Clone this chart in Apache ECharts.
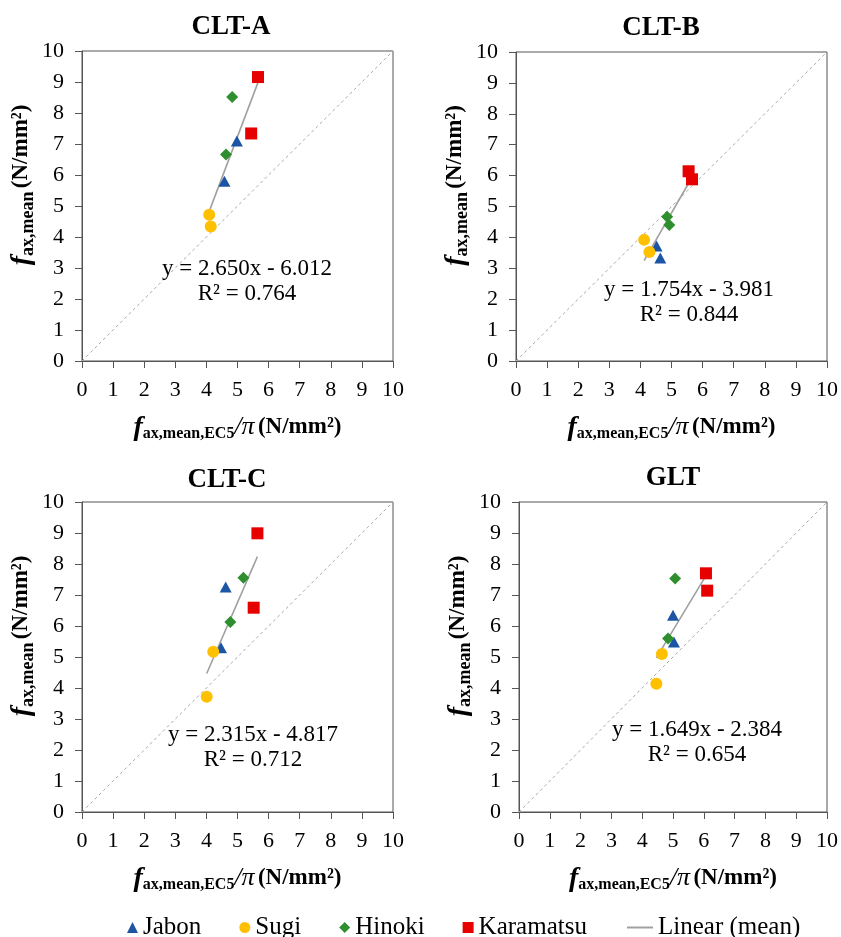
<!DOCTYPE html>
<html>
<head>
<meta charset="utf-8">
<title>CLT / GLT</title>
<script src="https://cdn.jsdelivr.net/npm/echarts@6/dist/echarts.min.js"></script>
<style>
  html, body { margin: 0; padding: 0; background: #fff; }
  #chart { width: 841px; height: 937px; }
</style>
</head>
<body>
<div id="chart"></div>
<script>
// panel names
const panels = ['CLT-A', 'CLT-B', 'CLT-C', 'GLT'];
const axisTicks = [0, 10];
const diagonal = [[0, 0], [10, 10]];

// [x, y] pairs per species, one array per panel
const jabonA = [[4.98, 7.10], [4.58, 5.80]];
const sugiA = [[4.09, 4.72], [4.14, 4.34]];
const hinokiA = [[4.83, 8.52], [4.63, 6.66]];
const karamatsuA = [[5.66, 9.16], [5.44, 7.34]];

const jabonB = [[4.52, 3.72], [4.64, 3.33]];
const sugiB = [[4.12, 3.92], [4.29, 3.53]];
const hinokiB = [[4.86, 4.67], [4.93, 4.40]];
const karamatsuB = [[5.55, 6.14], [5.66, 5.88]];

const jabonC = [[4.62, 7.26], [4.47, 5.30]];
const sugiC = [[4.22, 5.17], [4.01, 3.72]];
const hinokiC = [[5.19, 7.56], [4.77, 6.13]];
const karamatsuC = [[5.64, 8.99], [5.52, 6.59]];

const jabonD = [[5.00, 6.35], [5.03, 5.48]];
const sugiD = [[4.64, 5.10], [4.46, 4.14]];
const hinokiD = [[5.07, 7.53], [4.84, 5.60]];
const karamatsuD = [[6.07, 7.70], [6.11, 7.14]];

// linear fit [slope, intercept] and R² as printed on the chart
const fitA = [2.650, -6.012], r2A = 0.764;
const fitB = [1.754, -3.981], r2B = 0.844;
const fitC = [2.315, -4.817], r2C = 0.712;
const fitD = [1.649, -2.384], r2D = 0.654;

const species = ['Jabon', 'Sugi', 'Hinoki', 'Karamatsu'];
const symbols = ['triangle', 'circle', 'diamond', 'rect'];
const symbolSizes = [[12, 11], 12, 12, 12];
const colors = ['#1c55a3', '#ffc000', '#2f8f2f', '#e60000'];

const panelData = [
  [jabonA, sugiA, hinokiA, karamatsuA],
  [jabonB, sugiB, hinokiB, karamatsuB],
  [jabonC, sugiC, hinokiC, karamatsuC],
  [jabonD, sugiD, hinokiD, karamatsuD]
];
const fits = [fitA, fitB, fitC, fitD];
const r2s = [r2A, r2B, r2C, r2D];

// layout
const grids = [
  { left: 82, top: 51, width: 311, height: 310 },
  { left: 516, top: 52, width: 311, height: 309 },
  { left: 82, top: 502, width: 311, height: 310 },
  { left: 519, top: 502, width: 310, height: 310 }
];
const titlePos = [[231, 14], [661, 15], [227, 467], [673, 465]];
const eqPos = [[247, 256], [689, 277], [253, 722], [697, 717]];

const serif = 'Liberation Serif';

const chart = echarts.init(document.getElementById('chart'));

const titles = [];
const xAxes = [];
const yAxes = [];
const series = [];

panels.forEach((name, i) => {
  titles.push({
    text: name,
    left: titlePos[i][0],
    top: titlePos[i][1],
    padding: 0,
    textAlign: 'center',
    textStyle: { fontFamily: serif, fontWeight: 'bold', fontSize: 27, color: '#000' }
  });
  const fit = fits[i];
  const sign = fit[1] < 0 ? ' - ' : ' + ';
  titles.push({
    text: 'y = ' + fit[0].toFixed(3) + 'x' + sign + Math.abs(fit[1]).toFixed(3) + '\nR² = ' + r2s[i].toFixed(3),
    left: eqPos[i][0],
    top: eqPos[i][1],
    padding: 0,
    textAlign: 'center',
    textStyle: { fontFamily: serif, fontWeight: 'normal', fontSize: 23, lineHeight: 25, color: '#000' }
  });

  xAxes.push({
    gridIndex: i,
    type: 'value',
    min: axisTicks[0],
    max: axisTicks[1],
    interval: 1,
    name: '{f|f}{sub|ax,mean,EC5}{pi|/π} {u|(N/mm²)}',
    nameLocation: 'middle',
    nameGap: 52,
    nameTextStyle: {
      rich: {
        f: { fontFamily: serif, fontStyle: 'italic', fontWeight: 'bold', fontSize: 28, color: '#000' },
        sub: { fontFamily: serif, fontWeight: 'bold', fontSize: 16, color: '#000', padding: [13, 0, 0, 0] },
        pi: { fontFamily: serif, fontStyle: 'italic', fontSize: 26, color: '#000' },
        u: { fontFamily: serif, fontWeight: 'bold', fontSize: 23, color: '#000' }
      }
    },
    axisLine: { show: true, lineStyle: { color: '#555', width: 1 } },
    axisTick: { show: true, inside: false, length: 7, lineStyle: { color: '#555' } },
    axisLabel: { fontFamily: serif, fontSize: 22, color: '#000', margin: 18 },
    splitLine: { show: false }
  });
  yAxes.push({
    gridIndex: i,
    type: 'value',
    min: axisTicks[0],
    max: axisTicks[1],
    interval: 1,
    name: '{f|f}{sub|ax,mean} {u|(N/mm²)}',
    nameLocation: 'middle',
    nameRotate: 90,
    nameGap: 45,
    nameTextStyle: {
      padding: [0, 0, 0, 42],
      rich: {
        f: { fontFamily: serif, fontStyle: 'italic', fontWeight: 'bold', fontSize: 28, color: '#000' },
        sub: { fontFamily: serif, fontWeight: 'bold', fontSize: 18, color: '#000', padding: [13, 0, 0, 0] },
        u: { fontFamily: serif, fontWeight: 'bold', fontSize: 23, color: '#000' }
      }
    },
    axisLine: { show: true, lineStyle: { color: '#555', width: 1 } },
    axisTick: { show: true, inside: false, length: 7, lineStyle: { color: '#555' } },
    axisLabel: { fontFamily: serif, fontSize: 22, color: '#000', margin: 18 },
    splitLine: { show: false }
  });

  // 1:1 reference line
  series.push({
    name: 'diag',
    type: 'line',
    xAxisIndex: i,
    yAxisIndex: i,
    data: diagonal,
    symbol: 'none',
    silent: true,
    lineStyle: { color: '#a8a8a8', width: 1, type: [3, 3] },
    z: 1
  });

  // trend line across the x range of the panel's points
  const xs = panelData[i].flat().map(p => p[0]);
  const x0 = Math.min(...xs), x1 = Math.max(...xs);
  series.push({
    name: 'Linear (mean)',
    type: 'line',
    xAxisIndex: i,
    yAxisIndex: i,
    data: [[x0, fit[0] * x0 + fit[1]], [x1, fit[0] * x1 + fit[1]]],
    symbol: 'none',
    itemStyle: { color: '#a0a0a0' },
    lineStyle: { color: '#a0a0a0', width: 1.6 },
    z: 3
  });

  species.forEach((sp, k) => {
    series.push({
      name: sp,
      type: 'scatter',
      xAxisIndex: i,
      yAxisIndex: i,
      data: panelData[i][k],
      symbol: symbols[k],
      symbolSize: symbolSizes[k],
      itemStyle: { color: colors[k], opacity: 1 },
      z: 4
    });
  });
});

chart.setOption({
  backgroundColor: '#fff',
  animation: false,
  title: titles,
  grid: grids.map(g => Object.assign({ show: true, borderColor: '#555', borderWidth: 1, backgroundColor: 'transparent' }, g)),
  xAxis: xAxes,
  yAxis: yAxes,
  legend: [
    {
      data: [
        { name: 'Jabon', icon: 'triangle' },
        { name: 'Sugi', icon: 'circle' },
        { name: 'Hinoki', icon: 'diamond' },
        { name: 'Karamatsu', icon: 'rect' }
      ],
      left: 122,
      top: 910,
      itemWidth: 11,
      itemHeight: 11,
      itemGap: 38,
      textStyle: { fontFamily: serif, fontSize: 25, color: '#000' }
    },
    {
      data: [{ name: 'Linear (mean)', icon: 'rect' }],
      left: 622,
      top: 910,
      itemWidth: 26,
      itemHeight: 2,
      textStyle: { fontFamily: serif, fontSize: 25, color: '#000' }
    }
  ],
  series: series
});
</script>
</body>
</html>
